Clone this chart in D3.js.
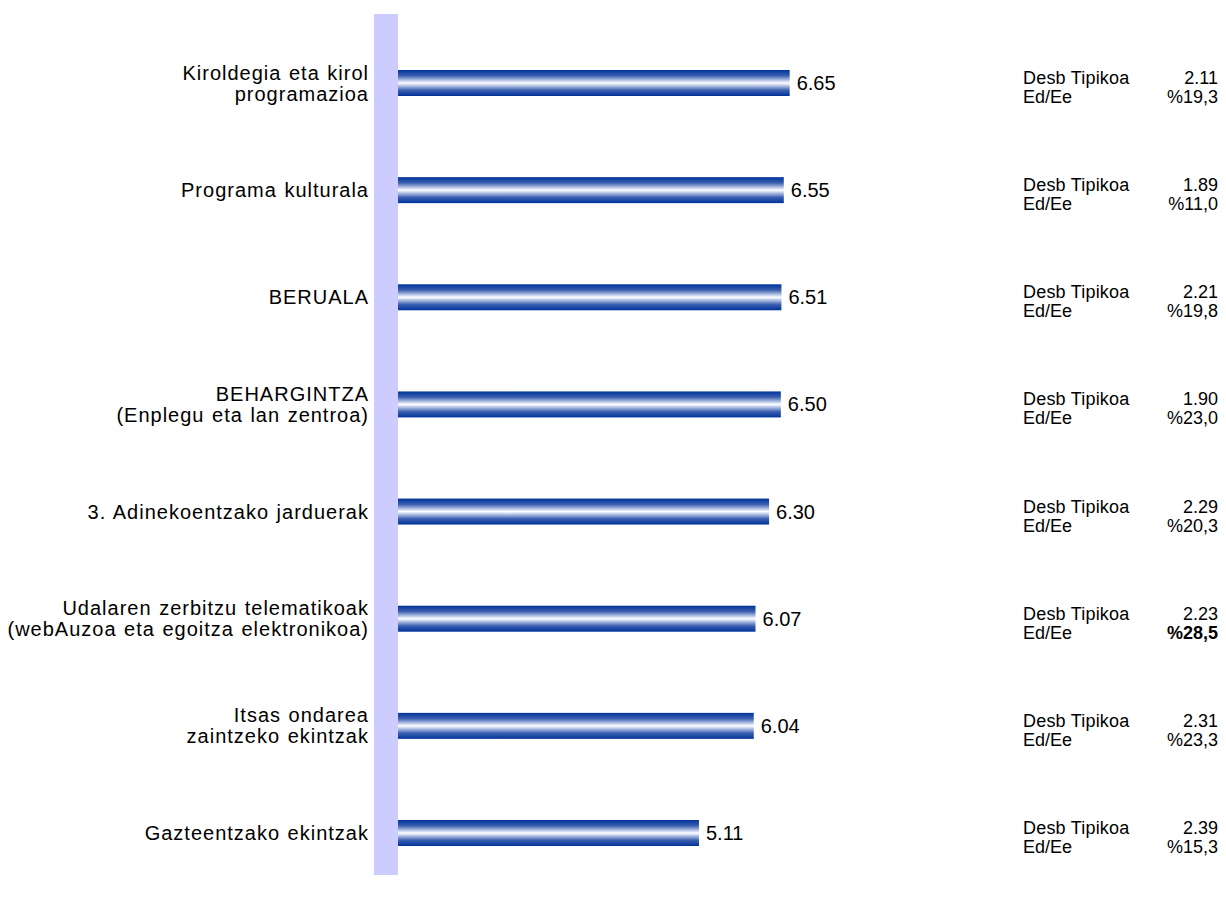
<!DOCTYPE html>
<html>
<head>
<meta charset="utf-8">
<script src="https://cdn.jsdelivr.net/npm/d3@7"></script>
<style>
  body { margin: 0; background: #fff; }
  text { font-family: "Liberation Sans", Arial, sans-serif; fill: #000; }
</style>
</head>
<body>
<svg id="chart" width="1226" height="902"></svg>
<script>
// data
const categories = [
  "Kiroldegia eta kirol\nprogramazioa",
  "Programa kulturala",
  "BERUALA",
  "BEHARGINTZA\n(Enplegu eta lan zentroa)",
  "3. Adinekoentzako jarduerak",
  "Udalaren zerbitzu telematikoak\n(webAuzoa eta egoitza elektronikoa)",
  "Itsas ondarea\nzaintzeko ekintzak",
  "Gazteentzako ekintzak"
];
const means = [6.65, 6.55, 6.51, 6.50, 6.30, 6.07, 6.04, 5.11];
const stdDevs = [2.11, 1.89, 2.21, 1.90, 2.29, 2.23, 2.31, 2.39];
const noAnswer = [19.3, 11.0, 19.8, 23.0, 20.3, 28.5, 23.3, 15.3];
const boldNoAnswer = [false, false, false, false, false, true, false, false];

const svg = d3.select("#chart");

// scales
const x = d3.scaleLinear().domain([0, 10]).range([398, 987]);
const y = d3.scalePoint().domain(categories).range([83, 833]);
const barH = 26;

// gradient for the bars
const grad = svg.append("defs").append("linearGradient")
    .attr("id", "barGrad")
    .attr("x1", 0).attr("y1", 0).attr("x2", 0).attr("y2", 1);
[[0, "#003399"], [0.22, "#3a5fb0"], [0.4, "#b8c6e6"], [0.5, "#ffffff"],
 [0.6, "#b8c6e6"], [0.78, "#3a5fb0"], [1, "#003399"]].forEach(s => {
    grad.append("stop").attr("offset", s[0]).attr("stop-color", s[1]);
});

// lavender axis band
svg.append("rect")
    .attr("x", 374).attr("y", 14)
    .attr("width", 24).attr("height", 861)
    .attr("fill", "#ccccff");

// bars
svg.selectAll(".bar").data(categories)
  .enter().append("rect")
    .attr("class", "bar")
    .attr("x", x(0))
    .attr("y", d => y(d) - barH / 2)
    .attr("width", (d, i) => x(means[i]) - x(0))
    .attr("height", barH)
    .attr("fill", "url(#barGrad)");

// value labels
svg.selectAll(".val").data(categories)
  .enter().append("text")
    .attr("class", "val")
    .attr("x", (d, i) => x(means[i]) + 7)
    .attr("y", d => y(d) + 7)
    .style("font-size", "20px")
    .text((d, i) => means[i].toFixed(2));

// category labels (right aligned, multi line)
const lineH = 21;
svg.selectAll(".cat").data(categories)
  .enter().append("text")
    .attr("class", "cat")
    .attr("text-anchor", "end")
    .style("font-size", "20px")
    .style("letter-spacing", "1px")
    .style("word-spacing", "1px")
    .each(function(d) {
        const lines = d.split("\n");
        const t = d3.select(this);
        const y0 = y(d) + 7 - (lines.length - 1) * lineH / 2;
        lines.forEach((l, k) => {
            t.append("tspan").attr("x", 369).attr("y", y0 + k * lineH).text(l);
        });
    });

// right-hand stats
const stats = svg.append("g").style("font-size", "18px");
categories.forEach((c, i) => {
    const cy = y(c);
    stats.append("text").attr("x", 1023).attr("y", cy + 1)
        .style("letter-spacing", "0.2px").text("Desb Tipikoa");
    stats.append("text").attr("x", 1218).attr("y", cy + 1)
        .attr("text-anchor", "end").text(stdDevs[i].toFixed(2));
    stats.append("text").attr("x", 1023).attr("y", cy + 20)
        .text("Ed/Ee");
    stats.append("text").attr("x", 1218).attr("y", cy + 20)
        .attr("text-anchor", "end")
        .style("font-weight", boldNoAnswer[i] ? "bold" : "normal")
        .text("%" + noAnswer[i].toFixed(1).replace(".", ","));
});
</script>
</body>
</html>
